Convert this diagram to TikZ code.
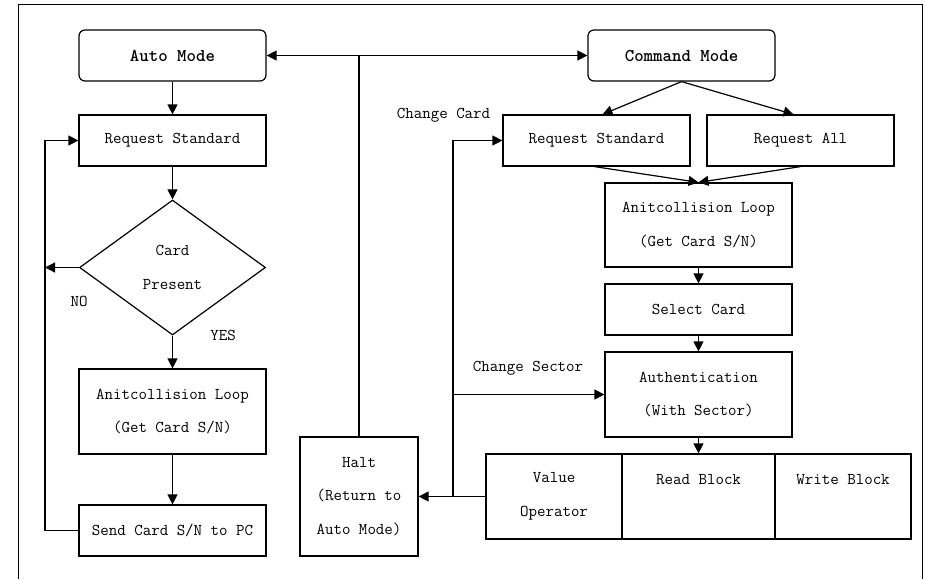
\documentclass[tikz,border=0pt]{standalone}
\usepackage{tikz}
\usetikzlibrary{positioning}
\usetikzlibrary{calc}
\usetikzlibrary{arrows.meta}
\usetikzlibrary{shapes.geometric}

\tikzset{
    flowBox/.style={draw, line width=1.2pt, rectangle, minimum width=187pt, minimum height=51pt, inner sep=2pt},
    modeBox/.style={flowBox, rounded corners=6pt, font=\ttfamily\bfseries\fontsize{18}{20}\selectfont},
    flowArrow/.style={line width=1.2pt, -{Triangle[length=10pt, width=10pt]}},
    flowLine/.style={line width=1.2pt}
}

\begin{document}
\begin{tikzpicture}[x=1pt, y=-1pt, every node/.style={align=center, font=\ttfamily\fontsize{16.5}{33.5}\selectfont}]

        \useasboundingbox (0,0) rectangle (926,579);
        % Frame
        \draw[line width=1pt] (18,579) |- (922,4) -- (922,579);

        % Left column
        \node[modeBox] (autoBox) at (172.5,55.5) {Auto Mode};
        \node[flowBox] (reqStdLBox) at (172.5,140.5) {Request Standard};
        \node[draw, line width=1.2pt, diamond, minimum width=186pt, minimum height=135pt, inner sep=0pt] (cardDiamond) at (172.5,267.5) {Card\\Present};
        \node[flowBox, minimum height=85pt] (antiLBox) at (172.5,411.5) {Anitcollision Loop\\(Get Card S/N)};
        \node[flowBox] (sendBox) at (172.5,530.5) {Send Card S/N to PC};
        \node (noLabel) at (79,301) {NO};
        \node (yesLabel) at (223,335) {YES};

        % Halt
        \node[flowBox, minimum width=118pt, minimum height=119pt] (haltBox) at (359,496.5) {Halt\\(Return to\\Auto Mode)};

        % Right column
        \node[modeBox] (cmdBox) at (681.5,55.5) {Command Mode};
        \node[flowBox] (reqStdRBox) at (596.5,140.5) {Request Standard};
        \node[flowBox] (reqAllBox) at (800.5,140.5) {Request All};
        \node[flowBox, minimum height=84pt] (antiRBox) at (698.5,225) {Anitcollision Loop\\(Get Card S/N)};
        \node[flowBox] (selectBox) at (698.5,309.5) {Select Card};
        \node[flowBox, minimum height=85pt] (authBox) at (698.5,394.5) {Authentication\\(With Sector)};
        \node[flowBox, minimum width=136pt, minimum height=85pt] (valueBox) at (554,496.5) {Value\\Operator};
        \node[flowBox, minimum width=153pt, minimum height=85pt] (readBox) at (698.5,496.5) {Read Block\\~};
        \node[flowBox, minimum width=136pt, minimum height=85pt] (writeBox) at (843,496.5) {Write Block\\~};
        \node (chCardLabel) at (443.5,115) {Change Card};
        \node (chSectorLabel) at (528,368) {Change Sector};

        % Connectors, left
        \coordinate (loopL) at (45,530.5);
        \draw[flowArrow] (autoBox) -- (reqStdLBox);
        \draw[flowArrow] (reqStdLBox) -- (cardDiamond);
        \draw[flowArrow] (cardDiamond.west) -- (cardDiamond.west -| loopL);
        \draw[flowArrow] (cardDiamond.south) -- (antiLBox);
        \draw[flowArrow] (antiLBox) -- (sendBox);
        \draw[flowArrow] (sendBox.west) -- (loopL) |- (reqStdLBox.west);

        % Connectors, halt
        \coordinate (topJoin) at (haltBox.north |- autoBox.east);
        \draw[flowLine] (haltBox.north) -- (topJoin);
        \draw[flowArrow] (topJoin) -- (autoBox.east);
        \draw[flowArrow] (topJoin) -- (cmdBox.west);

        % Connectors, right
        \draw[flowArrow] (cmdBox.south) -- ($(reqStdRBox.north)+(6,0)$);
        \draw[flowArrow] (cmdBox.south) -- ($(reqAllBox.north)+(-7,0)$);
        \draw[flowArrow] ($(reqStdRBox.south)+(-2,0)$) -- (antiRBox.north);
        \draw[flowArrow] (reqAllBox.south) -- (antiRBox.north);
        \draw[flowArrow] (antiRBox) -- (selectBox);
        \draw[flowArrow] (selectBox) -- (authBox);
        \draw[flowArrow] (authBox) -- (readBox);
        \draw[flowArrow] (valueBox.west) -- (haltBox.east);
        \coordinate (loopR) at (453,496.5);
        \draw[flowArrow] (loopR) |- (reqStdRBox.west);
        \draw[flowArrow] (loopR |- authBox.west) -- (authBox.west);

    \end{tikzpicture}
\end{document}
